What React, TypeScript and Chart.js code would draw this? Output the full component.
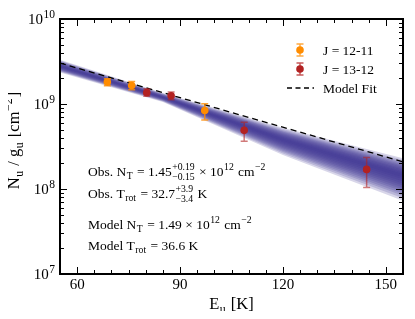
import React, { useEffect, useRef } from 'react';
import Chart from 'chart.js/auto';

const FONT = '"Liberation Serif", "DejaVu Serif", serif';

// ---- data ----
const xMin = 55;
const xMax = 155;
const xMajorTicks = [60, 90, 120, 150];
const xMinorStep = 5;
const yDecades = [7, 8, 9, 10];

const orangeX = [68.8, 75.9, 97.2];
const orangeY = [1.81e9, 1.65e9, 8.4e8];
const orangeHi = [1.98e9, 1.84e9, 1.01e9];
const orangeLo = [1.64e9, 1.47e9, 6.5e8];

const redX = [80.3, 87.4, 108.7, 144.4];
const redY = [1.36e9, 1.25e9, 4.9e8, 1.7e8];
const redHi = [1.51e9, 1.38e9, 6.1e8, 2.35e8];
const redLo = [1.23e9, 1.12e9, 3.65e8, 1.04e8];

const fitX = [55, 155];
const fitY = [3.03e9, 2.09e8];

const bandX = [55, 85, 120, 155];
const bandCenter = [2.79e9, 1.2e9, 3.8e8, 1.45e8];
const bandUpDex = [0.075, 0.05, 0.14, 0.2];
const bandDownDex = [0.075, 0.055, 0.18, 0.3];
const bandLayers = [0.08, 0.16, 0.24, 0.32, 0.4, 0.48, 0.56, 0.64, 0.72, 0.8, 0.9, 1.0];

const ORANGE = '#ff8c00';
const RED = '#b22222';

type Part = string | { sup?: string; sub?: string };

function drawRich(ctx: CanvasRenderingContext2D, x: number, y: number, parts: Part[], size: number, dry = false): number {
  let cx = x;
  for (const p of parts) {
    if (typeof p === 'string') {
      ctx.font = `${size}px ${FONT}`;
      if (!dry) ctx.fillText(p, cx, y);
      cx += ctx.measureText(p).width;
    } else {
      const s = size * 0.72;
      ctx.font = `${s}px ${FONT}`;
      let w = 0;
      if (p.sup) {
        if (!dry) ctx.fillText(p.sup, cx + 0.5, y - size * 0.42);
        w = Math.max(w, ctx.measureText(p.sup).width);
      }
      if (p.sub) {
        if (!dry) ctx.fillText(p.sub, cx + 0.5, y + size * (p.sup ? 0.32 : 0.22));
        w = Math.max(w, ctx.measureText(p.sub).width);
      }
      cx += w + 1.5;
    }
  }
  return cx - x;
}

const errPlugin = {
  id: 'errbars',
  beforeDatasetDraw(chart: any, args: any) {
    const ds = chart.data.datasets[args.index];
    if (!ds.errHi) return;
    const { ctx, scales } = chart;
    const x = scales.x, y = scales.y;
    ctx.save();
    ctx.strokeStyle = ds.errColor;
    ctx.lineWidth = 1.5;
    ds.data.forEach((p: any, i: number) => {
      const px = x.getPixelForValue(p.x);
      const yh = y.getPixelForValue(ds.errHi[i]);
      const yl = y.getPixelForValue(ds.errLo[i]);
      ctx.beginPath();
      ctx.moveTo(px, yh); ctx.lineTo(px, yl);
      ctx.moveTo(px - 3.5, yh); ctx.lineTo(px + 3.5, yh);
      ctx.moveTo(px - 3.5, yl); ctx.lineTo(px + 3.5, yl);
      ctx.stroke();
    });
    ctx.restore();
  },
};

const framePlugin = {
  id: 'frame',
  afterDraw(chart: any) {
    const { ctx, chartArea: a, scales } = chart;
    const x = scales.x, y = scales.y;
    ctx.save();
    ctx.strokeStyle = '#000';
    ctx.fillStyle = '#000';
    ctx.lineWidth = 1;
    const seg = (x1: number, y1: number, x2: number, y2: number) => {
      ctx.beginPath(); ctx.moveTo(x1, y1); ctx.lineTo(x2, y2); ctx.stroke();
    };
    // x ticks
    for (let v = xMin + xMinorStep; v < xMax; v += xMinorStep) {
      const px = Math.round(x.getPixelForValue(v)) + 0.5;
      const len = xMajorTicks.includes(v) ? 7 : 4;
      seg(px, a.bottom, px, a.bottom - len);
      seg(px, a.top, px, a.top + len);
    }
    // y ticks
    for (let e = yDecades[0]; e <= yDecades[yDecades.length - 1]; e++) {
      for (let m = 1; m <= 9; m++) {
        if (e === yDecades[yDecades.length - 1] && m > 1) break;
        const py = Math.round(y.getPixelForValue(m * Math.pow(10, e))) + 0.5;
        const len = m === 1 ? 7 : 4;
        seg(a.left, py, a.left + len, py);
        seg(a.right, py, a.right - len, py);
      }
    }
    // frame
    ctx.lineWidth = 2;
    ctx.strokeRect(a.left, a.top, a.right - a.left, a.bottom - a.top);

    // x tick labels
    ctx.textAlign = 'center';
    ctx.font = `15px ${FONT}`;
    xMajorTicks.forEach((v) => {
      ctx.fillText(String(v), x.getPixelForValue(v), a.bottom + 15);
    });
    // y tick labels
    ctx.textAlign = 'left';
    yDecades.forEach((e) => {
      const py = y.getPixelForValue(Math.pow(10, e));
      ctx.font = `11.5px ${FONT}`;
      const ew = ctx.measureText(String(e)).width;
      ctx.font = `15px ${FONT}`;
      const bw = ctx.measureText('10').width;
      const right = a.left - 5;
      ctx.fillText('10', right - ew - bw - 0.5, py + 5);
      ctx.font = `11.5px ${FONT}`;
      ctx.fillText(String(e), right - ew, py - 1.5);
    });

    // axis titles
    const xt: Part[] = ['E', { sub: 'u' }, ' [K]'];
    const xw = drawRich(ctx, 0, 0, xt, 16.5, true);
    drawRich(ctx, (a.left + a.right) / 2 - xw / 2, a.bottom + 35, xt, 16.5);

    const yt: Part[] = ['N', { sub: 'u' }, ' / g', { sub: 'u' }, ' [cm', { sup: '−2' }, ']'];
    const yw = drawRich(ctx, 0, 0, yt, 16.5, true);
    ctx.save();
    ctx.translate(11, (a.top + a.bottom) / 2 - 6);
    ctx.rotate(-Math.PI / 2);
    drawRich(ctx, -yw / 2, 0, yt, 16.5);
    ctx.restore();

    // annotations
    const ax = a.left + 28;
    const fs = 13.5;
    drawRich(ctx, ax, 168, ['Obs. N', { sub: 'T' }, ' = 1.45', { sup: '+0.19', sub: '−0.15' }, ' × 10', { sup: '12' }, ' cm', { sup: '−2' }], fs);
    drawRich(ctx, ax, 190, ['Obs. T', { sub: 'rot' }, ' = 32.7', { sup: '+3.9', sub: '−3.4' }, ' K'], fs);
    drawRich(ctx, ax, 221, ['Model N', { sub: 'T' }, ' = 1.49 × 10', { sup: '12' }, ' cm', { sup: '−2' }], fs);
    drawRich(ctx, ax, 242, ['Model T', { sub: 'rot' }, ' = 36.6 K'], fs);

    // legend
    const mx = 292;
    const tx = 315;
    const rows = [
      { y: 42, color: ORANGE, label: 'J = 12-11' },
      { y: 61, color: RED, label: 'J = 13-12' },
    ];
    rows.forEach((r) => {
      ctx.strokeStyle = r.color;
      ctx.globalAlpha = 0.75;
      ctx.lineWidth = 1.5;
      ctx.beginPath();
      ctx.moveTo(mx, r.y - 6); ctx.lineTo(mx, r.y + 6);
      ctx.moveTo(mx - 3.5, r.y - 6); ctx.lineTo(mx + 3.5, r.y - 6);
      ctx.moveTo(mx - 3.5, r.y + 6); ctx.lineTo(mx + 3.5, r.y + 6);
      ctx.stroke();
      ctx.globalAlpha = 1;
      ctx.fillStyle = r.color;
      ctx.beginPath(); ctx.arc(mx, r.y, 3.8, 0, Math.PI * 2); ctx.fill();
      ctx.fillStyle = '#000';
      ctx.font = `13.5px ${FONT}`;
      ctx.fillText(r.label, tx, r.y + 4.5);
    });
    ctx.strokeStyle = '#000';
    ctx.lineWidth = 1.3;
    ctx.setLineDash([5, 3.5]);
    ctx.beginPath(); ctx.moveTo(279, 80); ctx.lineTo(306, 80); ctx.stroke();
    ctx.setLineDash([]);
    ctx.fillText('Model Fit', tx, 84.5);
    ctx.restore();
  },
};

export default function App() {
  const ref = useRef<HTMLCanvasElement>(null);
  useEffect(() => {
    if (!ref.current) return;
    const datasets: any[] = [];
    bandLayers.forEach((f, i) => {
      datasets.push({
        type: 'line',
        data: bandX.map((x, j) => ({ x, y: bandCenter[j] * Math.pow(10, bandUpDex[j] * f) })),
        borderWidth: 0, pointRadius: 0, fill: false, order: 10 + i,
      });
      datasets.push({
        type: 'line',
        data: bandX.map((x, j) => ({ x, y: bandCenter[j] / Math.pow(10, bandDownDex[j] * f) })),
        borderWidth: 0, pointRadius: 0, fill: '-1',
        backgroundColor: 'rgba(58,48,145,0.2)', order: 10 + i,
      });
    });
    datasets.push({
      type: 'line',
      data: fitX.map((x, i) => ({ x, y: fitY[i] })),
      borderColor: '#000', borderWidth: 1.3, borderDash: [6, 4], pointRadius: 0, fill: false, order: 2,
    });
    datasets.push({
      type: 'scatter',
      data: orangeX.map((x, i) => ({ x, y: orangeY[i] })),
      errHi: orangeHi, errLo: orangeLo, errColor: 'rgba(255,140,0,0.8)',
      backgroundColor: ORANGE, borderColor: ORANGE, pointRadius: 3.8, borderWidth: 0, order: 1,
    });
    datasets.push({
      type: 'scatter',
      data: redX.map((x, i) => ({ x, y: redY[i] })),
      errHi: redHi, errLo: redLo, errColor: 'rgba(178,34,34,0.6)',
      backgroundColor: RED, borderColor: RED, pointRadius: 3.8, borderWidth: 0, order: 0,
    });
    const chart = new Chart(ref.current, {
      type: 'line',
      data: { datasets },
      options: {
        animation: false,
        responsive: false,
        layout: { padding: { left: 52, top: 11, right: 3, bottom: 37 } },
        plugins: { legend: { display: false }, tooltip: { enabled: false } },
        scales: {
          x: { type: 'linear', min: xMin, max: xMax, display: false },
          y: { type: 'logarithmic', min: 1e7, max: 1e10, display: false },
        },
      },
      plugins: [errPlugin, framePlugin],
    } as any);
    return () => chart.destroy();
  }, []);
  return (
    <div style={{ width: 399, height: 303 }}>
      <canvas ref={ref} width={399} height={303} style={{ display: 'block' }} />
    </div>
  );
}
